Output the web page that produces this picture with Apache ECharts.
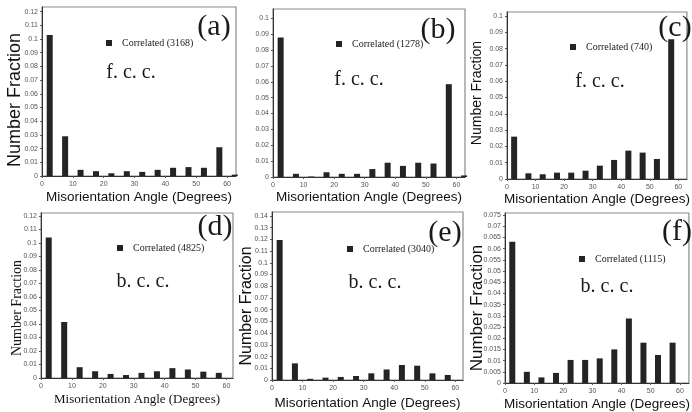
<!DOCTYPE html>
<html><head><meta charset="utf-8">
<script src="https://cdn.jsdelivr.net/npm/echarts@6/dist/echarts.min.js"></script>
<style>html,body{margin:0;padding:0;background:#fff}#c{width:692px;height:412px}</style>
</head><body><div id="c"></div>
<script>
// ---- data ----
const binCenters = [2.5, 7.5, 12.5, 17.5, 22.5, 27.5, 32.5, 37.5, 42.5, 47.5, 52.5, 57.5, 62.5];
const valuesA = [0.103, 0.029, 0.0045, 0.0035, 0.002, 0.0035, 0.003, 0.0045, 0.006, 0.0065, 0.006, 0.021, 0.001];
const valuesB = [0.088, 0.002, 0.0003, 0.003, 0.002, 0.002, 0.005, 0.009, 0.007, 0.009, 0.0085, 0.0585, 0.001];
const valuesC = [0.026, 0.0035, 0.0029, 0.0039, 0.0039, 0.0051, 0.0082, 0.0117, 0.0174, 0.0162, 0.0123, 0.0857];
const valuesD = [0.104, 0.0415, 0.008, 0.005, 0.003, 0.0022, 0.0038, 0.005, 0.0073, 0.0063, 0.0047, 0.0038];
const valuesE = [0.1195, 0.0142, 0.001, 0.002, 0.0026, 0.0034, 0.0057, 0.009, 0.0128, 0.0122, 0.0057, 0.0043];
const valuesF = [0.0631, 0.005, 0.0025, 0.0045, 0.0103, 0.0103, 0.011, 0.015, 0.0288, 0.018, 0.0125, 0.018];
const seriesNames = ['Correlated (3168)', 'Correlated (1278)', 'Correlated (740)', 'Correlated (4825)', 'Correlated (3040)', 'Correlated (1115)'];
const panelLabels = ['(a)', '(b)', '(c)', '(d)', '(e)', '(f)'];
const structureLabels = ['f. c. c.', 'f. c. c.', 'f. c. c.', 'b. c. c.', 'b. c. c.', 'b. c. c.'];
const xAxisTitle = 'Misorientation Angle (Degrees)';
const yAxisTitle = 'Number Fraction';
const yIntervals = [0.01, 0.01, 0.01, 0.01, 0.01, 0.005];
const yMax = [0.1234, 0.1059, 0.1025, 0.1222, 0.1434, 0.0759];
const xMax = [62.9, 62.8, 63, 62.1, 62.5, 63.1];

const allValues = [valuesA, valuesB, valuesC, valuesD, valuesE, valuesF];

// ---- layout ----
const SANS = 'Liberation Sans, Arial, sans-serif';
const SERIF = 'Liberation Serif, Times New Roman, serif';
const grids = [
  {left: 42, top: 7, width: 194, height: 169},
  {left: 273, top: 9, width: 192, height: 168},
  {left: 507, top: 12, width: 191, height: 167},
  {left: 41, top: 213, width: 192, height: 165},
  {left: 272, top: 212, width: 191, height: 168},
  {left: 505, top: 213, width: 191, height: 170}
];
const xNameCfg = [
  {gap: 14, font: SANS, size: 13.5},
  {gap: 13, font: SANS, size: 13.5},
  {gap: 11, font: SANS, size: 13.5},
  {gap: 15, font: SERIF, size: 13},
  {gap: 16, font: SANS, size: 13.5},
  {gap: 14, font: SANS, size: 13.5}
];
const yNameCfg = [
  {x: 15, y: 100, font: SANS, size: 18},
  null,
  {x: 477, y: 93, font: SANS, size: 14},
  {x: 17, y: 308, font: SERIF, size: 14},
  {x: 247, y: 306, font: SANS, size: 16},
  {x: 477, y: 308, font: SANS, size: 17}
];
const legendPos = [
  {left: 106, top: 38}, {left: 336, top: 39}, {left: 570, top: 42},
  {left: 117, top: 243}, {left: 347, top: 244}, {left: 579, top: 254}
];
const structPos = [[131, 73], [359, 80], [600, 82], [143, 282], [375, 283], [607, 287]];
const panelPos = [[214, 27], [438, 30], [675, 28], [215, 227], [445, 233], [677, 232]];

const option = {
  backgroundColor: '#fff',
  animation: false,
  grid: grids.map(g => Object.assign({show: true, borderColor: '#8a8a8a', borderWidth: 1.2, backgroundColor: 'transparent'}, g)),
  xAxis: grids.map((g, i) => ({
    type: 'value', gridIndex: i, min: 0, max: xMax[i], interval: 10,
    name: xAxisTitle, nameLocation: 'middle', nameGap: xNameCfg[i].gap,
    nameTextStyle: {fontFamily: xNameCfg[i].font, fontSize: xNameCfg[i].size, color: '#111'},
    axisLine: {show: true, lineStyle: {color: '#333', width: 1}},
    axisTick: {show: true, length: 2, lineStyle: {color: '#555'}},
    axisLabel: {fontSize: 7, fontFamily: SANS, color: '#555', margin: 5, showMaxLabel: false, showMinLabel: true},
    splitLine: {show: false}
  })),
  yAxis: grids.map((g, i) => ({
    type: 'value', gridIndex: i, min: 0, max: yMax[i], interval: yIntervals[i],
    axisLine: {show: true, lineStyle: {color: '#333', width: 1}},
    axisTick: {show: true, length: 2, lineStyle: {color: '#555'}},
    axisLabel: {fontSize: 7, fontFamily: SANS, color: '#555', margin: 4, showMaxLabel: false, showMinLabel: true},
    splitLine: {show: false}
  })),
  legend: seriesNames.map((n, i) => ({
    data: [n], left: legendPos[i].left, top: legendPos[i].top, padding: 0,
    icon: 'rect', itemWidth: 6, itemHeight: 6, selectedMode: false,
    textStyle: {fontFamily: SERIF, fontSize: 10, color: '#222', padding: [0, 0, 0, 5]}
  })),
  series: allValues.map((vals, i) => ({
    type: 'bar', name: seriesNames[i], xAxisIndex: i, yAxisIndex: i,
    barWidth: 6, itemStyle: {color: '#242424'},
    data: vals.map((v, k) => [binCenters[k], v])
  })),
  graphic: [].concat(
    yNameCfg.map(c => c ? {type: 'text', x: c.x, y: c.y, rotation: Math.PI / 2,
      style: {text: yAxisTitle, align: 'center', verticalAlign: 'middle', font: c.size + 'px ' + c.font, fill: '#111'}} : null).filter(Boolean),
    structureLabels.map((t, i) => ({type: 'text', x: structPos[i][0], y: structPos[i][1],
      style: {text: t, align: 'center', verticalAlign: 'middle', font: '20px ' + SERIF, fill: '#1a1a1a'}})),
    panelLabels.map((t, i) => ({type: 'text', x: panelPos[i][0], y: panelPos[i][1],
      style: {text: t, align: 'center', verticalAlign: 'middle', font: '30px ' + SERIF, fill: '#1a1a1a'}}))
  )
};
const chart = echarts.init(document.getElementById('c'), null, {renderer: 'canvas'});
chart.setOption(option);
</script>
</body></html>
